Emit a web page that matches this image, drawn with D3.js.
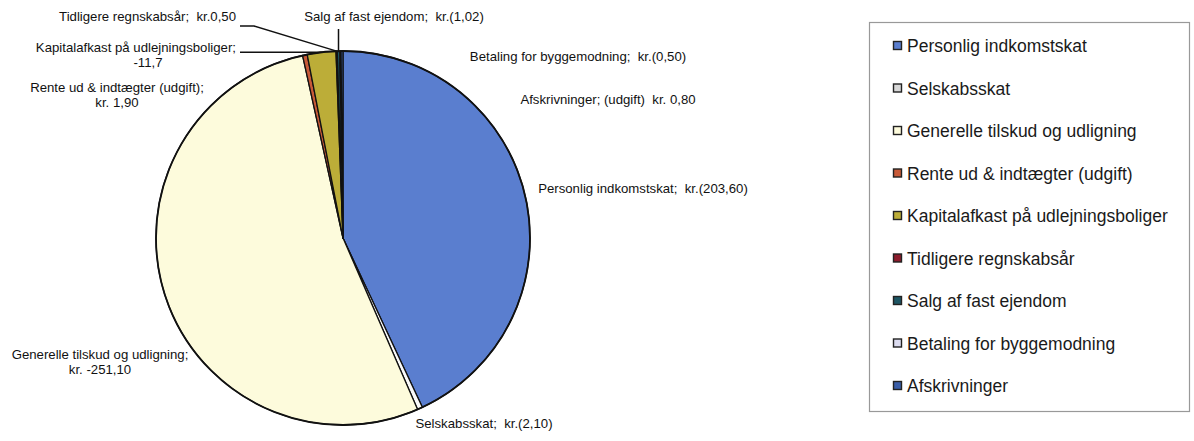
<!DOCTYPE html>
<html lang="da">
<head>
    <meta charset="UTF-8">
    <title>Indtægter</title>
    <script src="https://d3js.org/d3.v7.min.js"></script>
    <style>
        body {
            margin: 0;
            background: #fff;
        }

        .lbl {
            font: 13.2px 'Liberation Sans', Arial, sans-serif;
            fill: #111;
            white-space: pre;
        }

        .leg {
            font: 17.5px 'Liberation Sans', Arial, sans-serif;
            fill: #1a1a1a;
        }
    </style>
</head>
<body>
    <script>
        // data
        const categories = [
            "Personlig indkomstskat",
            "Selskabsskat",
            "Generelle tilskud og udligning",
            "Rente ud & indtægter (udgift)",
            "Kapitalafkast på udlejningsboliger",
            "Tidligere regnskabsår",
            "Salg af fast ejendom",
            "Betaling for byggemodning",
            "Afskrivninger"
        ];
        const values = [203.6, 2.1, 251.1, 1.9, 11.7, 0.5, 1.02, 0.5, 0.8];
        const colors = ["#5a7ecf", "#d8d8d8", "#fdfbdc", "#c85a38", "#bcad38",
            "#8c1c2c", "#1d5563", "#dcdcf0", "#3a5ea8"];
        const labelTexts = [
            ["Personlig indkomstskat;  kr.(203,60)"],
            ["Selskabsskat;  kr.(2,10)"],
            ["Generelle tilskud og udligning;", "kr. -251,10"],
            ["Rente ud & indtægter (udgift);", "kr. 1,90"],
            ["Kapitalafkast på udlejningsboliger;", "-11,7"],
            ["Tidligere regnskabsår;  kr.0,50"],
            ["Salg af fast ejendom;  kr.(1,02)"],
            ["Betaling for byggemodning;  kr.(0,50)"],
            ["Afskrivninger; (udgift)  kr. 0,80"]
        ];

        // label placement (layout, set by hand like the original)
        const labelLayout = [
            { x: 643, y: 193, anchor: "middle" },
            { x: 484, y: 428, anchor: "middle" },
            { x: 100, y: 359, anchor: "middle" },
            { x: 117, y: 92, anchor: "middle" },
            { x: 236, y: 52, anchor: "end", sub: 148, leader: "flat" },
            { x: 236, y: 21, anchor: "end", leader: "bent" },
            { x: 394, y: 21, anchor: "middle", leader: "up" },
            { x: 578, y: 61, anchor: "middle" },
            { x: 608, y: 104, anchor: "middle" }
        ];

        var width = 1194,
            height = 441;
        var svg = d3.select("body").append("svg")
            .attr("width", width)
            .attr("height", height);

        var cx = 343, cy = 238, r = 187;

        var pie = d3.pie().sort(null).value(d => d);
        var arcs = pie(values);
        var arc = d3.arc().innerRadius(0).outerRadius(r);

        var g = svg.append("g").attr("transform", "translate(" + cx + "," + cy + ")");
        g.selectAll("path")
            .data(arcs)
            .join("path")
            .attr("d", arc)
            .attr("fill", (d, i) => i == 1 ? "#fafafa" : colors[i])
            .attr("stroke", "#111")
            .attr("stroke-width", 1.3)
            .attr("stroke-linejoin", "round");

        g.append("circle")
            .attr("r", r)
            .attr("fill", "none")
            .attr("stroke", "#111")
            .attr("stroke-width", 1.8);

        // leader lines
        function edge(d) {
            var a = (d.startAngle + d.endAngle) / 2;
            return [cx + r * Math.sin(a), cy - r * Math.cos(a)];
        }
        labelLayout.forEach(function (L, i) {
            if (!L.leader) return;
            var p = edge(arcs[i]);
            var pts;
            if (L.leader == "flat") pts = [[L.x + 4, p[1]], p];
            else if (L.leader == "bent") pts = [[L.x + 4, L.y + 5], [L.x + 18, L.y + 5], p];
            else pts = [[p[0], L.y + 8], p];
            svg.append("path")
                .attr("d", d3.line()(pts))
                .attr("fill", "none")
                .attr("stroke", "#111")
                .attr("stroke-width", 1.5);
        });

        // labels
        labelLayout.forEach(function (L, i) {
            var t = svg.append("text")
                .attr("class", "lbl")
                .attr("x", L.x)
                .attr("y", L.y)
                .attr("text-anchor", L.anchor);
            labelTexts[i].forEach(function (s, k) {
                var ts = t.append("tspan").text(s);
                if (k > 0) {
                    ts.attr("x", L.sub || L.x).attr("dy", 15);
                    if (L.sub) ts.attr("text-anchor", "middle");
                }
            });
        });

        // legend
        var legY = d3.scalePoint().domain(categories).range([46, 386]);
        svg.append("rect")
            .attr("x", 869.5).attr("y", 22.5)
            .attr("width", 320).attr("height", 389)
            .attr("fill", "#fff")
            .attr("stroke", "#999")
            .attr("stroke-width", 1.2);
        var leg = svg.append("g").selectAll("g")
            .data(categories)
            .join("g")
            .attr("transform", d => "translate(0," + legY(d) + ")");
        leg.append("rect")
            .attr("x", 893.5).attr("y", -4.5)
            .attr("width", 8).attr("height", 8)
            .attr("fill", (d, i) => colors[i])
            .attr("stroke", "#222")
            .attr("stroke-width", 1.4);
        leg.append("text")
            .attr("class", "leg")
            .attr("x", 907)
            .attr("y", 6)
            .text(d => d);
    </script>
</body>
</html>
